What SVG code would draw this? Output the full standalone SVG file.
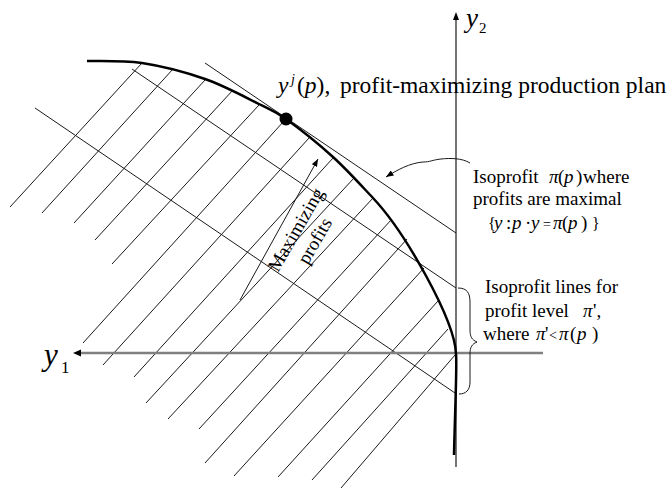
<svg xmlns="http://www.w3.org/2000/svg" width="672" height="489" viewBox="0 0 672 489">
<style>
.thin{stroke:#1a1a1a;stroke-width:1;fill:none}
.t{font-family:"Liberation Serif","Times New Roman",serif;fill:#000}
.i{font-style:italic}
</style>
<defs>
<marker id="arr" viewBox="0 0 10 8" refX="10" refY="4" markerWidth="8" markerHeight="6" markerUnits="userSpaceOnUse" orient="auto"><path d="M0,0 L10,4 L0,8 z" fill="#000"/></marker>
</defs>
<rect width="672" height="489" fill="#fff"/>
<g id="hatch" class="thin">
<line x1="10" y1="207" x2="142" y2="63"/>
<line x1="42" y1="213" x2="173" y2="69"/>
<line x1="74" y1="223" x2="205" y2="80"/>
<line x1="95" y1="240" x2="233" y2="90"/>
<line x1="112" y1="264" x2="259" y2="105"/>
<line x1="83" y1="343" x2="284" y2="121"/>
<line x1="103" y1="365" x2="309" y2="138"/>
<line x1="134" y1="377" x2="333" y2="158"/>
<line x1="146" y1="403" x2="354" y2="178"/>
<line x1="168" y1="419" x2="373" y2="198"/>
<line x1="199" y1="429" x2="392" y2="219"/>
<line x1="205" y1="463" x2="407" y2="239"/>
<line x1="234" y1="476" x2="424" y2="268"/>
<line x1="278" y1="477" x2="438" y2="301"/>
<line x1="312" y1="480" x2="448" y2="329"/>
<line x1="341" y1="488" x2="455" y2="355"/>
</g>
<g id="isoprofit-lines" class="thin">
<line x1="205" y1="63" x2="456" y2="233"/>
<line x1="132" y1="69" x2="456" y2="288"/>
<line x1="35" y1="108" x2="455" y2="393"/>
</g>
<g id="axes">
<line x1="80" y1="353" x2="543" y2="353" stroke="#808080" stroke-width="2.5"/>
<path d="M73,353 L81,349.5 L81,356.5 z" fill="#000"/>
<line x1="456" y1="19" x2="456" y2="467" stroke="#1a1a1a" stroke-width="1.2"/>
<path d="M456,12 L453,20 L459,20 z" fill="#000"/>
<text class="t i" font-size="27" x="466" y="27">y</text>
<text class="t" font-size="15" x="479" y="33">2</text>
<text class="t i" font-size="31" x="44" y="365">y</text>
<text class="t" font-size="17" x="61" y="373">1</text>
</g>
<g id="frontier">
<path d="M87,61 C105,61.3 122.3,60.5 142,63 C161.7,66 185.5,72.2 205,79 C224.5,85.8 245.5,97.3 259,104 C272.5,110.7 273.7,110.2 286,119 C298.3,127.8 318.5,143.8 333,157 C347.5,170.2 360.7,185 373,198 C405,232 455,320 456,354 C457.2,362 455,410 454,455" fill="none" stroke="#000" stroke-width="2.5"/>
</g>
<g id="optimum">
<circle cx="286" cy="119" r="6.5" fill="#000"/>
<text class="t" font-size="23.5" y="93"><tspan x="278" class="i">y</tspan><tspan x="291" y="84" font-size="14" class="i">j</tspan><tspan x="297" y="93">(</tspan><tspan class="i">p</tspan><tspan>),</tspan><tspan x="340">profit-maximizing production plan</tspan></text>
</g>
<g id="connectors" class="thin">
<line x1="240" y1="300" x2="318" y2="159" marker-end="url(#arr)"/>
<path d="M470,163 C462,158 450,158 441,159 C432,160 430,162 423,162 C410,163 397,170 386,177" marker-end="url(#arr)"/>
<path d="M458,288 C467,288 470,293 470,302 L470,330 C470,337 472,340 477,342 C472,344 470,347 470,354 L470,382 C470,390 466,394 459,394"/>
</g>
<g id="maximizing-label" transform="translate(278,273) rotate(-60)">
<text class="t" font-size="19" x="0" y="0">Maximizing</text>
<text class="t" font-size="19" x="21.5" y="22">profits</text>
</g>
<g id="max-isoprofit-label">
<text class="t" font-size="19"><tspan x="473" y="183">Isoprofit</tspan><tspan x="549" class="i">π</tspan><tspan x="558">(</tspan><tspan x="564" class="i">p</tspan><tspan x="576">)</tspan><tspan x="583">where</tspan></text>
<text class="t" font-size="19" x="473" y="205">profits are maximal</text>
<text class="t" font-size="19" y="229"><tspan x="488" font-size="16">{</tspan><tspan x="494" font-size="19" class="i">y</tspan><tspan x="506">:</tspan><tspan x="512" class="i">p</tspan><tspan x="525">·</tspan><tspan x="531" class="i">y</tspan><tspan x="543" font-size="14">=</tspan><tspan x="553" font-size="19" class="i">π</tspan><tspan x="562">(</tspan><tspan x="568" class="i">p</tspan><tspan x="581">)</tspan><tspan x="592" font-size="16">}</tspan></text>
</g>
<g id="lower-isoprofit-label">
<text class="t" font-size="19" x="485" y="293">Isoprofit lines for</text>
<text class="t" font-size="19" y="317"><tspan x="485">profit level</tspan><tspan x="583" class="i">π</tspan><tspan x="593">',</tspan></text>
<text class="t" font-size="19" y="340"><tspan x="483">where</tspan><tspan x="536" class="i">π</tspan><tspan x="545">'</tspan><tspan x="549" font-size="14">&lt;</tspan><tspan x="559" font-size="19" class="i">π</tspan><tspan x="570">(</tspan><tspan x="577" class="i">p</tspan><tspan x="592">)</tspan></text>
</g>
</svg>
